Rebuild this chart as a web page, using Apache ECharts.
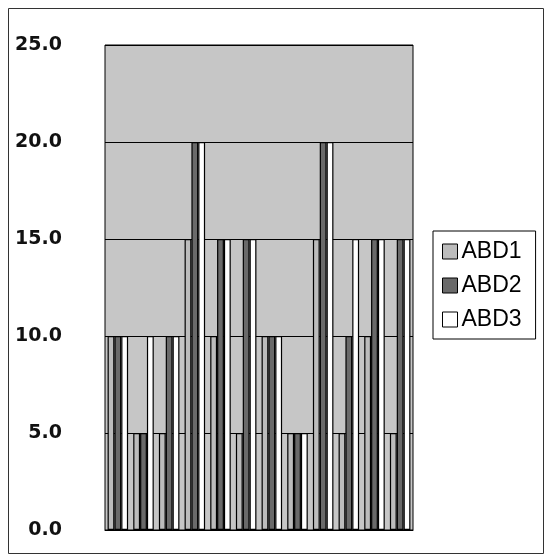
<!DOCTYPE html>
<html>
<head>
<meta charset="utf-8">
<script src="https://cdn.jsdelivr.net/npm/echarts@6/dist/echarts.min.js"></script>
<style>
  html, body { margin: 0; padding: 0; background: #fff; }
  #chart { width: 550px; height: 560px; }
</style>
</head>
<body>
<div id="chart"></div>
<script>
let categories = ['1', '2', '3', '4', '5', '6', '7', '8', '9', '10', '11', '12']
let abd1 = [10, 5, 5, 15, 10, 5, 10, 5, 15, 5, 10, 5]
let abd2 = [10, 5, 10, 20, 15, 15, 10, 5, 20, 10, 15, 15]
let abd3 = [10, 10, 10, 20, 15, 15, 10, 5, 20, 15, 15, 15]
let yTicks = [0, 5, 10, 15, 20, 25]

let chart = echarts.init(document.getElementById('chart'))

let barStyle = function (color) {
  return {
    color: color,
    borderColor: '#000',
    borderWidth: 1.2
  }
}

let option = {
  animation: false,
  backgroundColor: '#fff',
  graphic: [{
    type: 'rect',
    shape: { x: 8.5, y: 8.5, width: 535, height: 545 },
    style: { fill: 'none', stroke: '#333', lineWidth: 1 }
  }],
  grid: {
    left: 105,
    right: 137,
    top: 45,
    bottom: 30,
    show: true,
    backgroundColor: '#c6c6c6',
    borderColor: '#000',
    borderWidth: 1
  },
  legend: {
    orient: 'vertical',
    left: 433,
    top: 231,
    icon: 'rect',
    itemWidth: 15,
    itemHeight: 15,
    itemGap: 11,
    padding: [9, 14, 8, 9],
    borderColor: '#000',
    borderWidth: 1,
    itemStyle: { borderColor: '#000', borderWidth: 1 },
    textStyle: {
      fontFamily: 'Liberation Sans',
      fontSize: 23,
      color: '#000',
      padding: [0, 0, 0, -1]
    },
    data: ['ABD1', 'ABD2', 'ABD3']
  },
  xAxis: {
    type: 'category',
    data: categories,
    axisLine: { show: true, lineStyle: { color: '#000' } },
    axisTick: { show: false },
    axisLabel: { show: false }
  },
  yAxis: {
    type: 'value',
    min: 0,
    max: 25,
    interval: 5,
    axisLine: { show: false },
    axisTick: { show: false },
    splitLine: { show: true, lineStyle: { color: '#000', width: 1 } },
    axisLabel: {
      margin: 43,
      fontFamily: 'DejaVu Sans',
      fontSize: 19,
      fontWeight: 'bold',
      color: '#111',
      formatter: function (v) { return yTicks.indexOf(v) >= 0 ? v.toFixed(1) : '' }
    }
  },
  series: [{
    name: 'ABD1',
    type: 'bar',
    data: abd1,
    barGap: '0%',
    barCategoryGap: '20%',
    itemStyle: barStyle('#bcbcbc')
  }, {
    name: 'ABD2',
    type: 'bar',
    data: abd2,
    itemStyle: barStyle('#6a6a6a')
  }, {
    name: 'ABD3',
    type: 'bar',
    data: abd3,
    itemStyle: barStyle('#ffffff')
  }]
}
chart.setOption(option)
</script>
</body>
</html>
